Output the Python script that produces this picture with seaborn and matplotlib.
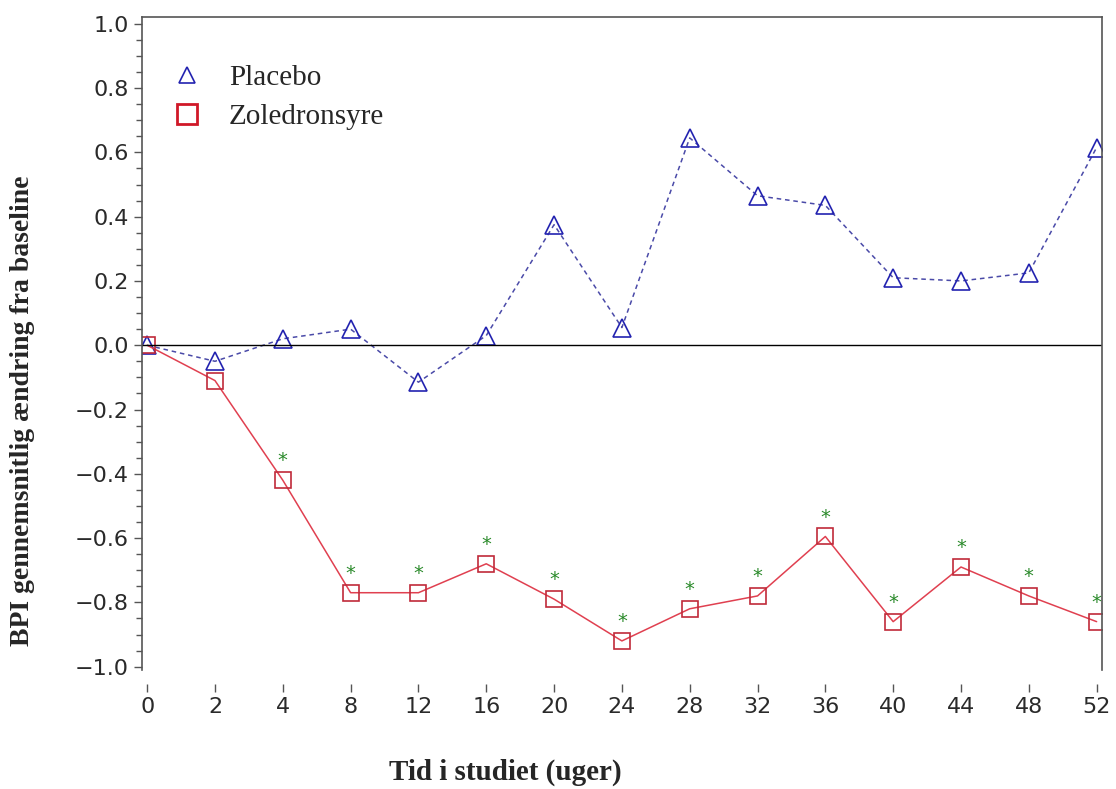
import numpy as np
import pandas as pd
import matplotlib
matplotlib.use("Agg")
import matplotlib.pyplot as plt
import seaborn as sns
from matplotlib.lines import Line2D
from matplotlib.ticker import AutoMinorLocator, MultipleLocator

# data
weeks = [0, 2, 4, 8, 12, 16, 20, 24, 28, 32, 36, 40, 44, 48, 52]
placebo = [0.0, -0.05, 0.02, 0.05, -0.115, 0.03, 0.375, 0.055, 0.645, 0.465,
           0.435, 0.21, 0.20, 0.225, 0.615]
zoledron = [0.0, -0.11, -0.42, -0.77, -0.77, -0.68, -0.79, -0.92, -0.82, -0.78,
            -0.595, -0.86, -0.69, -0.78, -0.86]
signif = [False, False] + [True] * 13

df = pd.DataFrame({"pos": np.arange(len(weeks)), "week": weeks,
                   "Placebo": placebo, "Zoledronsyre": zoledron})

sns.set_style("white")
fig = plt.figure(figsize=(11.16, 7.89), dpi=100)
ax = fig.add_axes([0.127, 0.151, 0.8605, 0.827])

sns.lineplot(data=df, x="pos", y="Placebo", ax=ax, color="#4a4aa8",
             linestyle=(0, (3, 2.5)), linewidth=1.1, marker="^", markersize=13,
             markerfacecolor="none", markeredgecolor="#2323b0", markeredgewidth=1.2)
sns.lineplot(data=df, x="pos", y="Zoledronsyre", ax=ax, color="#e04050",
             linewidth=1.1, marker="s", markersize=11.5,
             markerfacecolor="none", markeredgecolor="#c02a3a", markeredgewidth=1.2)

# significance marks above the zoledronic acid points
for p, v, s in zip(df["pos"], zoledron, signif):
    if s:
        ax.annotate("*", (p, v), xytext=(0, 7), textcoords="offset points",
                    ha="center", va="bottom", color="#2a8a2a", fontsize=14,
                    family="DejaVu Sans")

ax.axhline(0, color="black", linewidth=1)

ax.set_xlim(-0.08, len(weeks) - 0.92)
ax.set_xticks(df["pos"])
ax.set_xticklabels(weeks)
yt = np.round(np.arange(-1.0, 1.01, 0.2), 1)
ax.set_yticks(yt)
ax.set_yticklabels([f"{t:.1f}".replace("-", "\u2212").replace("\u22120.0", "0.0")
                    for t in yt])
ax.yaxis.set_minor_locator(AutoMinorLocator(4))
ax.set_ylim(-1.01, 1.02)

for side in ["left", "top", "right"]:
    ax.spines[side].set_color("#555555")
    ax.spines[side].set_linewidth(1.2)
ax.spines["bottom"].set_position(("outward", 10))
ax.spines["bottom"].set_visible(False)

ax.tick_params(axis="both", which="major", direction="out", length=6, width=1,
               color="#555555", labelsize=16, labelcolor="#2a2a2a")
ax.tick_params(axis="y", which="minor", direction="out", length=4, width=1,
               color="#555555", left=True)
ax.tick_params(axis="y", left=True)
ax.tick_params(axis="x", bottom=True)
ax.set_xlabel("")
ax.set_ylabel("")

# legend
handles = [Line2D([], [], linestyle="none", marker="^", markersize=12,
                  markerfacecolor="none", markeredgecolor="#2323b0", markeredgewidth=1.2),
           Line2D([], [], linestyle="none", marker="s", markersize=15,
                  markerfacecolor="none", markeredgecolor="#d01828", markeredgewidth=2)]
ax.legend(handles, ["Placebo", "Zoledronsyre"], loc="upper left",
          bbox_to_anchor=(-0.011, 0.968), frameon=False, handletextpad=0.45,
          handlelength=2.0, labelspacing=0.45,
          prop={"family": "Liberation Serif", "size": 21})

fig.text(0.453, 0.004, "Tid i studiet (uger)", ha="center", va="bottom",
         family="Liberation Serif", weight="bold", fontsize=21)
fig.text(0.02, 0.48, "BPI gennemsnitlig ændring fra baseline", ha="center",
         va="center", rotation=90, family="Liberation Serif", weight="bold",
         fontsize=20)

fig.savefig("out.png", dpi=100)
